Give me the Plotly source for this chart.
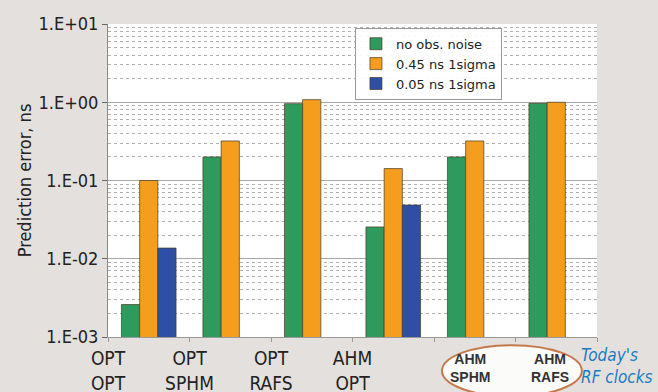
import plotly.graph_objects as go

categories = ["OPT<br>OPT", "OPT<br>SPHM", "OPT<br>RAFS", "AHM<br>OPT", "AHM<br>SPHM", "AHM<br>RAFS"]
x_pos = [0.5, 1.5, 2.5, 3.5, 4.5, 5.5]
no_noise = [2.6e-3, 0.20, 0.96, 0.0255, 0.20, 0.97]
sig045 = [0.10, 0.32, 1.08, 0.142, 0.32, 1.0]
sig005 = [0.0137, None, None, 0.0486, None, None]
series_names = ["no obs. noise", "0.45 ns 1sigma", "0.05 ns 1sigma"]
colors = ["#2e9a5e", "#f59d1c", "#2f4ea6"]
y_tickvals = [1e-3, 1e-2, 1e-1, 1, 10]
y_ticktext = ["1.E-03", "1.E-02", "1.E-01", "1.E+00", "1.E+01"]

FONT = "DejaVu Sans Condensed, Liberation Sans Narrow, sans-serif"

fig = go.Figure()
for name, vals, c in zip(series_names, [no_noise, sig045, sig005], colors):
    fig.add_trace(go.Bar(x=x_pos, y=vals, name=name,
                         marker=dict(color=c, line=dict(color="rgba(70,60,40,0.7)", width=1))))

fig.update_layout(
    width=658, height=392,
    margin=dict(l=108, r=61, t=24, b=55),
    paper_bgcolor="#e3e0dd", plot_bgcolor="white",
    barmode="group", bargap=0.33, bargroupgap=0,
    font=dict(family=FONT, color="#222"),
    legend=dict(x=0.505, y=0.988, xanchor="left", yanchor="top",
                bgcolor="rgba(255,255,255,0.92)", bordercolor="#999", borderwidth=1,
                font=dict(family="DejaVu Sans, sans-serif", size=13, color="#222"),
                itemwidth=30, tracegroupgap=0),
    showlegend=True,
)
fig.update_xaxes(range=[0, 6], tickvals=[0, 1, 2, 3, 4, 5, 6],
                 ticktext=categories[:4] + ["", "", ""],
                 showgrid=False, showline=True, linecolor="#999", linewidth=1,
                 ticks="outside", ticklen=4, tickcolor="#999", automargin=False,
                 tickfont=dict(family=FONT, size=19, color="#222"))
fig.update_yaxes(type="log", range=[-3, 1], tickvals=y_tickvals, ticktext=y_ticktext,
                 showline=True, linecolor="#888", linewidth=1,
                 ticks="outside", ticklen=5, tickcolor="#666", automargin=False,
                 showgrid=True, gridcolor="#a8a8a8", gridwidth=1,
                 minor=dict(dtick="D1", showgrid=True, gridcolor="#b0b0b0", griddash="dot", ticks=""),
                 tickfont=dict(family=FONT, size=18, color="#222"),
                 title=dict(text="Prediction error, ns", font=dict(family=FONT, size=18, color="#222"), standoff=2),
                 zeroline=False)

# ellipse highlighting today's RF clocks
fig.add_shape(type="circle", xref="paper", yref="paper", x0=0.683, x1=0.969, y0=-0.19, y1=-0.026,
              line=dict(color="#c47a4c", width=2), fillcolor="rgba(255,255,255,0.85)", layer="above")
for xv, lab in [(4.44, categories[4]), (5.42, categories[5])]:
    fig.add_annotation(x=xv, y=-0.026, xref="x", yref="paper", text="<b>" + lab + "</b>", showarrow=False,
                       yanchor="top", font=dict(family="Liberation Sans, Arial, sans-serif", size=14, color="#333"),
                       yshift=-4)
fig.add_annotation(x=1.118, y=-0.02, xref="paper", yref="paper", text="<i>Today's<br>RF clocks</i>",
                   showarrow=False, xanchor="right", yanchor="top", align="left",
                   font=dict(family=FONT, size=17, color="#1a7cc4"))

fig.write_html("out.html", config={"displayModeBar": False},
               post_script="document.body.style.margin='0';document.body.style.background='#e3e0dd';")
